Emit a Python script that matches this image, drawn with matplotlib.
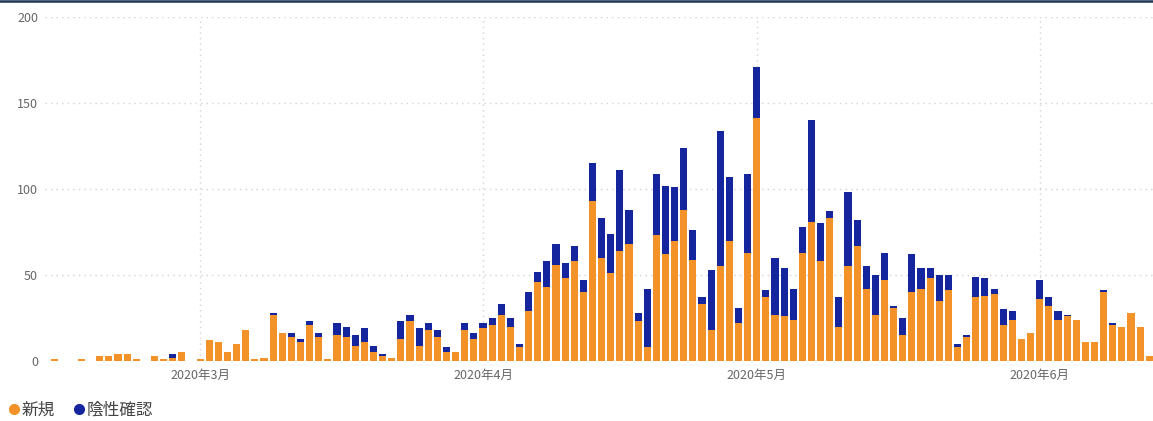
import matplotlib
matplotlib.use("Agg")
import matplotlib.pyplot as plt
from matplotlib.lines import Line2D
import pandas as pd

plt.rcParams["font.family"] = ["Noto Sans CJK JP", "DejaVu Sans"]

ORANGE = "#F39229"
NAVY = "#15259E"
GRID = "#D2D2D2"
TEXT = "#666666"

# daily counts, 2020-02-14 .. 2020-06-13
dates = pd.date_range("2020-02-14", "2020-06-13", freq="D")

new_feb = [1, 0, 0, 1, 0, 3, 3, 4, 4, 1, 0, 3, 1, 2, 5, 0]
neg_feb = [0, 0, 0, 0, 0, 0, 0, 0, 0, 0, 0, 0, 0, 2, 0, 0]
new_mar = [1, 12, 11, 5, 10, 18, 1, 2, 27, 16, 14, 11, 21, 14, 1, 15,
           14, 9, 11, 5, 3, 2, 13, 23, 9, 18, 14, 5, 5, 18, 13]
neg_mar = [0, 0, 0, 0, 0, 0, 0, 0, 1, 0, 2, 2, 2, 2, 0, 7,
           6, 6, 8, 4, 1, 0, 10, 4, 10, 4, 4, 3, 0, 4, 3]
new_apr = [19, 21, 27, 20, 8, 29, 46, 43, 56, 48, 58, 40, 93, 60, 51,
           64, 68, 23, 8, 73, 62, 70, 88, 59, 33, 18, 55, 70, 22, 63]
neg_apr = [3, 4, 6, 5, 2, 11, 6, 15, 12, 9, 9, 7, 22, 23, 23,
           47, 20, 5, 34, 36, 40, 31, 36, 17, 4, 35, 79, 37, 9, 46]
new_may = [141, 37, 27, 26, 24, 63, 81, 58, 83, 20, 55, 67, 42, 27, 47, 31,
           15, 40, 42, 48, 35, 41, 8, 14, 37, 38, 39, 21, 24, 13, 16]
neg_may = [30, 4, 33, 28, 18, 15, 59, 22, 4, 17, 43, 15, 13, 23, 16, 1,
           10, 22, 12, 6, 15, 9, 2, 1, 12, 10, 3, 9, 5, 0, 0]
new_jun = [36, 32, 24, 26, 24, 11, 11, 40, 21, 20, 28, 20, 3]
neg_jun = [11, 5, 5, 1, 0, 0, 0, 1, 1, 0, 0, 0, 0]

new_cases = new_feb + new_mar + new_apr + new_may + new_jun
negative = neg_feb + neg_mar + neg_apr + neg_may + neg_jun

month_ticks = pd.to_datetime(["2020-03-01", "2020-04-01", "2020-05-01", "2020-06-01"])
month_labels = ["2020年3月", "2020年4月", "2020年5月", "2020年6月"]

fig = plt.figure(figsize=(11.53, 4.21), dpi=100)
ax = fig.add_axes([45 / 1153, 1 - 361 / 421, 1 - 45 / 1153, (361 - 17) / 421])

ax.bar(dates, new_cases, width=0.78, color=ORANGE, zorder=3)
ax.bar(dates, negative, width=0.78, bottom=new_cases, color=NAVY, zorder=3)

ax.set_ylim(0, 200)
ax.set_yticks([0, 50, 100, 150, 200])
ax.set_xlim(pd.Timestamp("2020-02-13"), pd.Timestamp("2020-06-13 10:00"))
ax.set_xticks(month_ticks)
ax.set_xticklabels(month_labels)

for y in [50, 100, 150, 200]:
    ax.axhline(y, color=GRID, lw=1, ls=(0, (1, 3)), zorder=1)
for d in month_ticks:
    ax.axvline(d, color=GRID, lw=1, ls=(0, (1, 3)), zorder=1)

for s in ax.spines.values():
    s.set_visible(False)
ax.tick_params(axis="both", length=0, colors=TEXT, labelsize=9)
ax.tick_params(axis="y", pad=5)
ax.tick_params(axis="x", pad=6)

# top border line of the visual
fig.add_artist(Line2D([0, 1], [0.998, 0.998], color="#1F3557", lw=1.8))

handles = [
    Line2D([], [], marker="o", ls="", color=ORANGE, markersize=7),
    Line2D([], [], marker="o", ls="", color=NAVY, markersize=7),
]
fig.legend(handles, ["新規", "陰性確認"], loc="lower left", bbox_to_anchor=(-0.009, -0.022),
           ncol=2, frameon=False, fontsize=12, handletextpad=-0.3, columnspacing=0.7,
           handlelength=1.5, labelcolor="#444444", borderaxespad=0.3)

fig.savefig("out.png", dpi=100)
